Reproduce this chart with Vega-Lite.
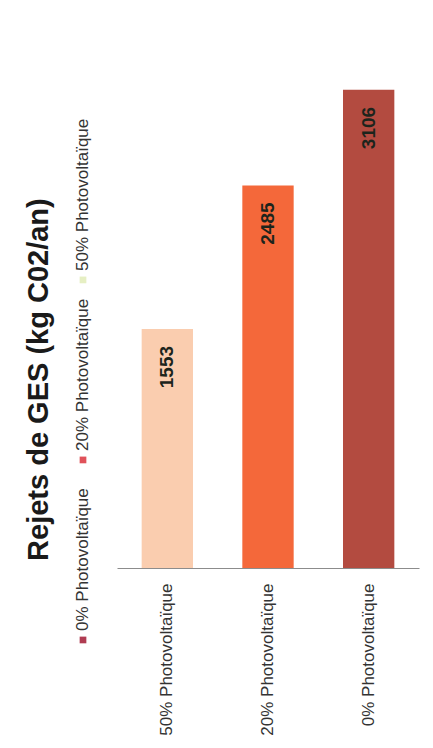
{
  "$schema": "https://vega.github.io/schema/vega-lite/v6.json",
  "background": "white",
  "padding": {"left": 24, "top": 60, "right": 8, "bottom": 8},
  "title": {
    "text": "Rejets de GES (kg C02/an)",
    "orient": "left",
    "anchor": "middle",
    "font": "Liberation Sans",
    "fontSize": 29,
    "fontWeight": "bold",
    "color": "#1a1a1a",
    "offset": 20,
    "dx": 18
  },
  "config": {"view": {"stroke": null}, "font": "Liberation Sans"},
  "spacing": 26,
  "hconcat": [
    {
      "width": 12,
      "height": 620,
      "data": {"values": [
        {"serie": "0% Photovoltaïque"},
        {"serie": "20% Photovoltaïque"},
        {"serie": "50% Photovoltaïque"}
      ]},
      "encoding": {
        "y": {
          "field": "serie",
          "type": "nominal",
          "sort": ["50% Photovoltaïque", "20% Photovoltaïque", "0% Photovoltaïque"],
          "scale": {"type": "point", "padding": 0.722, "align": 0.846},
          "axis": null
        }
      },
      "layer": [
        {
          "mark": {"type": "square", "size": 45, "opacity": 1},
          "encoding": {
            "color": {
              "field": "serie",
              "type": "nominal",
              "scale": {
                "domain": ["0% Photovoltaïque", "20% Photovoltaïque", "50% Photovoltaïque"],
                "range": ["#b03c52", "#e0525a", "#e6efc3"]
              },
              "legend": null
            }
          }
        },
        {
          "mark": {"type": "text", "angle": 270, "align": "left", "baseline": "middle", "dx": 9, "fontSize": 17, "color": "#333333"},
          "encoding": {"text": {"field": "serie", "type": "nominal"}}
        }
      ]
    },
    {
      "width": 302,
      "height": 508,
      "data": {"values": [
        {"cat": "50% Photovoltaïque", "value": 1553},
        {"cat": "20% Photovoltaïque", "value": 2485},
        {"cat": "0% Photovoltaïque", "value": 3106}
      ]},
      "encoding": {
        "x": {
          "field": "cat",
          "type": "nominal",
          "sort": ["50% Photovoltaïque", "20% Photovoltaïque", "0% Photovoltaïque"],
          "scale": {"paddingInner": 0.49, "paddingOuter": 0.245},
          "axis": {
            "title": null,
            "labelAngle": 270,
            "labelAlign": "right",
            "labelBaseline": "middle",
            "labelFontSize": 17,
            "labelColor": "#333333",
            "labelPadding": 15,
            "ticks": false,
            "domainColor": "#8c8c8c",
            "domainWidth": 1
          }
        },
        "y": {
          "field": "value",
          "type": "quantitative",
          "scale": {"domain": [0, 3300]},
          "axis": null
        }
      },
      "layer": [
        {
          "mark": {"type": "bar"},
          "encoding": {
            "color": {
              "field": "cat",
              "type": "nominal",
              "scale": {
                "domain": ["50% Photovoltaïque", "20% Photovoltaïque", "0% Photovoltaïque"],
                "range": ["#facdaf", "#f4683a", "#b34b40"]
              },
              "legend": null
            }
          }
        },
        {
          "mark": {"type": "text", "angle": 270, "align": "right", "baseline": "middle", "dx": -17, "fontSize": 19, "fontWeight": "bold", "color": "#1c241c"},
          "encoding": {"text": {"field": "value", "type": "quantitative", "format": "d"}}
        }
      ]
    }
  ],
  "resolve": {"scale": {"color": "independent", "y": "independent"}}
}
